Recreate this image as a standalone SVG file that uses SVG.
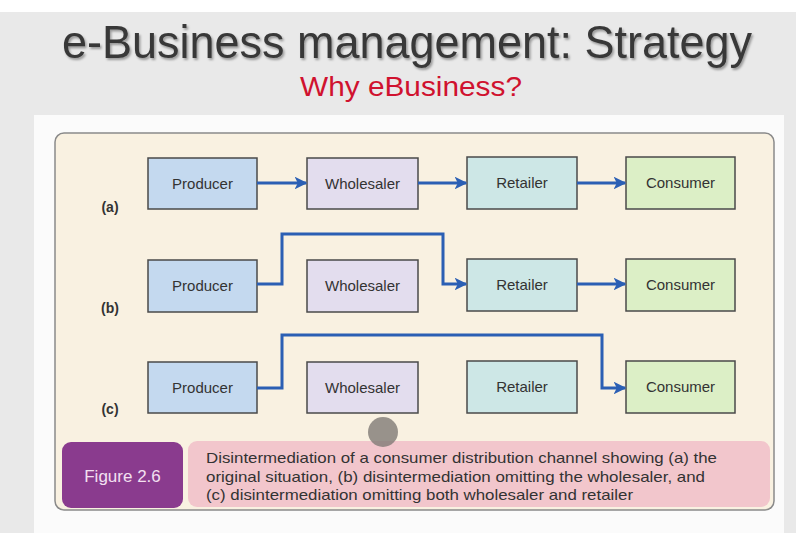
<svg xmlns="http://www.w3.org/2000/svg" width="796" height="533" viewBox="0 0 796 533">
  <defs>
    <marker id="arrow" viewBox="0 0 10 10" refX="9" refY="5" markerWidth="4.2" markerHeight="4.2" orient="auto" markerUnits="strokeWidth">
      <path d="M0,0 L10,5 L0,10 L2.5,5 z" fill="#2b5fb4"/>
    </marker>
    <filter id="shadow" filterUnits="userSpaceOnUse" x="0" y="0" width="796" height="110">
      <feDropShadow dx="1.5" dy="2" stdDeviation="1.2" flood-color="#000" flood-opacity="0.35"/>
    </filter>
  </defs>
  <style>
    .title { font-family: "Liberation Sans", Arial, sans-serif; font-size: 47px; fill: #383838; }
    .subtitle { font-family: "Liberation Sans", Arial, sans-serif; font-size: 27px; fill: #d0122f; }
    .box { stroke: #4a4a4a; stroke-width: 1.5; }
    .producer { fill: #c4d9ef; }
    .wholesaler { fill: #e3ddee; }
    .retailer { fill: #cde7e6; }
    .consumer { fill: #dcefc6; }
    .label { font-family: "Liberation Sans", Arial, sans-serif; font-size: 15px; fill: #333; text-anchor: middle; }
    .row { font-family: "Liberation Sans", Arial, sans-serif; font-size: 14px; font-weight: bold; fill: #333; text-anchor: middle; }
    .flow { fill: none; stroke: #2b5fb4; stroke-width: 3; marker-end: url(#arrow); }
    .caption { font-family: "Liberation Sans", Arial, sans-serif; font-size: 15px; fill: #333; }
  </style>

  <!-- slide background -->
  <rect x="0" y="0" width="796" height="533" fill="#ffffff"/>
  <rect x="0" y="12" width="796" height="521" fill="#e9e9e9"/>
  <rect x="34" y="115" width="750" height="418" fill="#fbfbfb"/>

  <!-- headings -->
  <g id="headings">
    <text class="title" x="407" y="58" text-anchor="middle" filter="url(#shadow)" textLength="690" lengthAdjust="spacingAndGlyphs">e-Business management: Strategy</text>
    <text class="subtitle" x="411" y="96" text-anchor="middle" textLength="222" lengthAdjust="spacingAndGlyphs">Why eBusiness?</text>
  </g>

  <!-- figure panel -->
  <rect x="55" y="133" width="719" height="377" rx="9" fill="#f9f1e1" stroke="#8a8a8a" stroke-width="1.5"/>

  <!-- row labels -->
  <text class="row" x="110" y="212">(a)</text>
  <text class="row" x="110" y="313">(b)</text>
  <text class="row" x="110" y="414">(c)</text>

  <!-- row (a) -->
  <g id="a-producer"><rect class="box producer" x="148" y="158" width="109" height="51"/><text class="label" x="202.5" y="189">Producer</text></g>
  <g id="a-wholesaler"><rect class="box wholesaler" x="307" y="158" width="111" height="51"/><text class="label" x="362.5" y="189">Wholesaler</text></g>
  <g id="a-retailer"><rect class="box retailer" x="467" y="157" width="110" height="52"/><text class="label" x="522" y="188">Retailer</text></g>
  <g id="a-consumer"><rect class="box consumer" x="626" y="157" width="109" height="52"/><text class="label" x="680.5" y="188">Consumer</text></g>

  <!-- row (b) -->
  <g id="b-producer"><rect class="box producer" x="148" y="260" width="109" height="52"/><text class="label" x="202.5" y="291">Producer</text></g>
  <g id="b-wholesaler"><rect class="box wholesaler" x="307" y="260" width="111" height="52"/><text class="label" x="362.5" y="291">Wholesaler</text></g>
  <g id="b-retailer"><rect class="box retailer" x="467" y="259" width="110" height="52"/><text class="label" x="522" y="290">Retailer</text></g>
  <g id="b-consumer"><rect class="box consumer" x="626" y="259" width="109" height="52"/><text class="label" x="680.5" y="290">Consumer</text></g>

  <!-- row (c) -->
  <g id="c-producer"><rect class="box producer" x="148" y="362" width="109" height="51"/><text class="label" x="202.5" y="393">Producer</text></g>
  <g id="c-wholesaler"><rect class="box wholesaler" x="307" y="362" width="111" height="51"/><text class="label" x="362.5" y="393">Wholesaler</text></g>
  <g id="c-retailer"><rect class="box retailer" x="467" y="361" width="110" height="52"/><text class="label" x="522" y="392">Retailer</text></g>
  <g id="c-consumer"><rect class="box consumer" x="626" y="361" width="109" height="52"/><text class="label" x="680.5" y="392">Consumer</text></g>

  <!-- connectors -->
  <g id="connectors">
    <path class="flow" d="M257,183 L306,183"/>
    <path class="flow" d="M418,183 L466,183"/>
    <path class="flow" d="M577,183 L625,183"/>
    <path class="flow" d="M257,284 L282,284 L282,234 L443,234 L443,284 L466,284"/>
    <path class="flow" d="M577,284 L625,284"/>
    <path class="flow" d="M257,388 L282,388 L282,335 L602,335 L602,388 L625,388"/>
  </g>

  <!-- caption -->
  <g id="figure-tag">
    <rect x="62" y="442" width="121" height="66" rx="9" fill="#8a3b8e"/>
    <text x="122.5" y="482" font-family="'Liberation Sans', Arial, sans-serif" font-size="17" fill="#f3e0f1" text-anchor="middle">Figure 2.6</text>
  </g>
  <g id="caption">
    <rect x="188" y="441" width="582" height="66" rx="9" fill="#f2c6cc"/>
    <text class="caption" x="206" y="463" textLength="511" lengthAdjust="spacingAndGlyphs">Disintermediation of a consumer distribution channel showing (a) the</text>
    <text class="caption" x="206" y="482" textLength="499" lengthAdjust="spacingAndGlyphs">original situation, (b) disintermediation omitting the wholesaler, and</text>
    <text class="caption" x="206" y="500" textLength="427" lengthAdjust="spacingAndGlyphs">(c) disintermediation omitting both wholesaler and retailer</text>
  </g>

  <!-- pointer dot -->
  <circle cx="383" cy="432" r="15" fill="#807a75" fill-opacity="0.8"/>
</svg>
